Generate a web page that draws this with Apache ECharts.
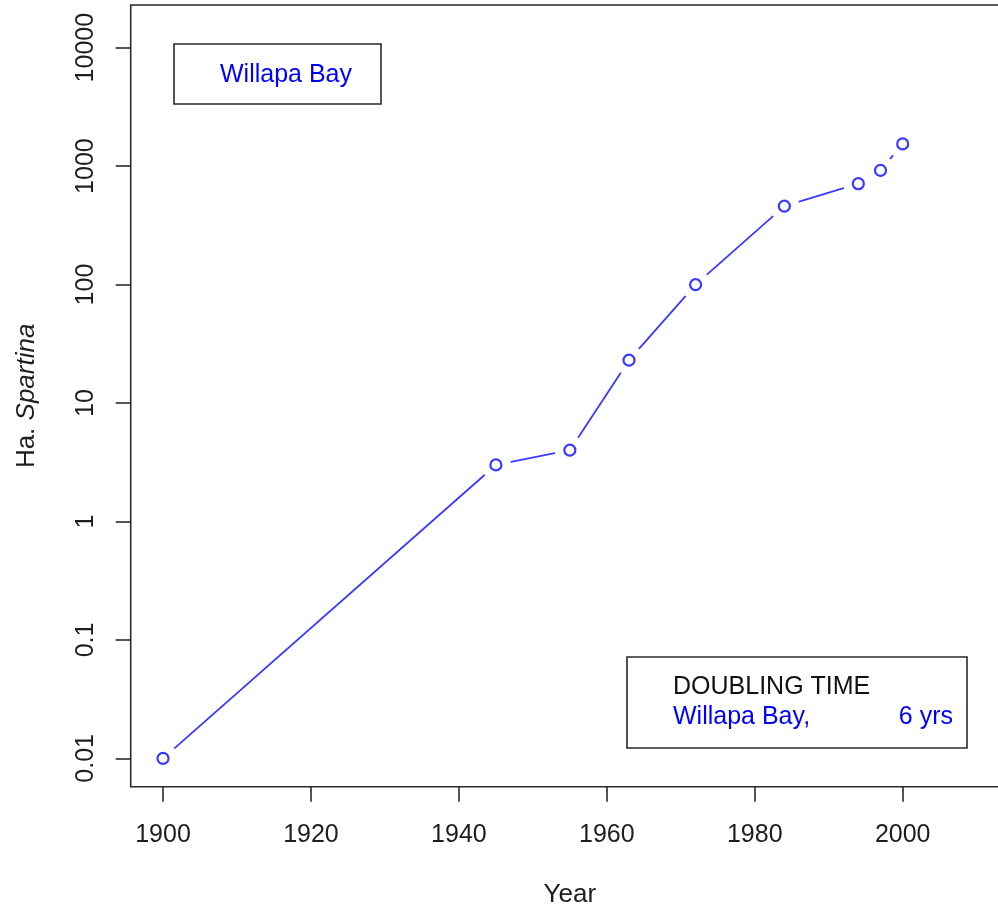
<!DOCTYPE html>
<html>
<head>
<meta charset="utf-8">
<style>
html,body{margin:0;padding:0;background:#fff;}
#chart{width:998px;height:911px;}
</style>
<script src="https://cdn.jsdelivr.net/npm/echarts/dist/echarts.min.js"></script>
</head>
<body>
<div id="chart"></div>
<script>
const years = [1900, 1945, 1955, 1963, 1972, 1984, 1994, 1997, 2000];
const hectares = [0.01, 3, 4, 23, 100, 460, 710, 920, 1540];
const xTicks = [1900, 1920, 1940, 1960, 1980, 2000];
const yTicks = [0.01, 0.1, 1, 10, 100, 1000, 10000];
const yTickLabels = ['0.01', '0.1', '1', '10', '100', '1000', '10000'];
const xLabel = 'Year';
const yLabelPlain = 'Ha. ';
const yLabelItalic = 'Spartina';
const legendTop = 'Willapa Bay';
const legendTitle = 'DOUBLING TIME';
const legendSite = 'Willapa Bay,';
const legendValue = '6 yrs';

const FONT = '"Liberation Sans", Arial, Helvetica, sans-serif';
const BLUE = '#0000ff';
const LINE_BLUE = '#3a3aff';
const AX = '#2a2a2a';
const TXT = '#1e1e1e';

const pts = years.map((y, i) => [y, hectares[i]]);

const chart = echarts.init(document.getElementById('chart'), null, {renderer: 'canvas'});
chart.setOption({
  backgroundColor: '#fff',
  animation: false,
  grid: {
    left: 130.7, top: 5, width: 878.3, height: 781.7,
    outerBoundsMode: 'none', containLabel: false,
    show: true, borderColor: AX, borderWidth: 1.6, backgroundColor: 'transparent'
  },
  xAxis: {
    type: 'value',
    min: 1895.63, max: 2014.37,
    axisLine: {show: false},
    splitLine: {show: false},
    axisTick: {show: true, length: 15, lineStyle: {color: AX, width: 1.6}, customValues: xTicks},
    axisLabel: {
      customValues: xTicks, margin: 36,
      color: TXT, fontSize: 25, fontFamily: FONT,
      formatter: v => String(v)
    },
    name: xLabel, nameLocation: 'middle', nameGap: 95,
    nameTextStyle: {color: TXT, fontSize: 26, fontFamily: FONT}
  },
  yAxis: {
    type: 'log', logBase: 10,
    min: 0.005768, max: 22909,
    axisLine: {show: false},
    splitLine: {show: false},
    axisTick: {show: true, length: 15, lineStyle: {color: AX, width: 1.6}, customValues: yTicks},
    axisLabel: {
      customValues: yTicks, rotate: 90, margin: 32.5,
      color: TXT, fontSize: 25, fontFamily: FONT,
      formatter: v => {
        const idx = yTicks.findIndex(t => Math.abs(Math.log10(t) - Math.log10(v)) < 1e-6);
        return idx >= 0 ? yTickLabels[idx] : '';
      }
    },
    name: '{a|' + yLabelPlain + '}{b|' + yLabelItalic + '}',
    nameLocation: 'middle', nameRotate: 90, nameGap: 91,
    nameTextStyle: {
      color: TXT, fontSize: 26, fontFamily: FONT,
      rich: {
        a: {color: TXT, fontSize: 26, fontFamily: FONT},
        b: {color: TXT, fontSize: 26, fontFamily: FONT, fontStyle: 'italic'}
      }
    }
  },
  series: [
    {
      type: 'line', data: pts, symbol: 'none', z: 2, silent: true,
      lineStyle: {color: LINE_BLUE, width: 1.8}
    },
    {
      type: 'scatter', data: pts, symbol: 'circle', symbolSize: 30, z: 3, silent: true,
      itemStyle: {color: '#ffffff', borderWidth: 0, opacity: 1}
    },
    {
      type: 'scatter', data: pts, symbol: 'circle', symbolSize: 11, z: 4, silent: true,
      itemStyle: {color: '#ffffff', borderColor: LINE_BLUE, borderWidth: 2.2, opacity: 1}
    }
  ],
  graphic: [
    {type: 'rect', shape: {x: 174, y: 44, width: 207, height: 60},
     style: {fill: 'none', stroke: AX, lineWidth: 1.6}, z: 10},
    {type: 'text', x: 220, y: 75, z: 10,
     style: {text: legendTop, fill: BLUE, font: '25px ' + FONT, align: 'left', verticalAlign: 'middle'}},
    {type: 'rect', shape: {x: 627, y: 657, width: 340, height: 91},
     style: {fill: 'none', stroke: AX, lineWidth: 1.6}, z: 10},
    {type: 'text', x: 673, y: 687, z: 10,
     style: {text: legendTitle, fill: '#111', font: '25px ' + FONT, align: 'left', verticalAlign: 'middle'}},
    {type: 'text', x: 673, y: 717, z: 10,
     style: {text: legendSite, fill: BLUE, font: '25px ' + FONT, align: 'left', verticalAlign: 'middle'}},
    {type: 'text', x: 953, y: 717, z: 10,
     style: {text: legendValue, fill: BLUE, font: '25px ' + FONT, align: 'right', verticalAlign: 'middle'}}
  ]
});
</script>
</body>
</html>
